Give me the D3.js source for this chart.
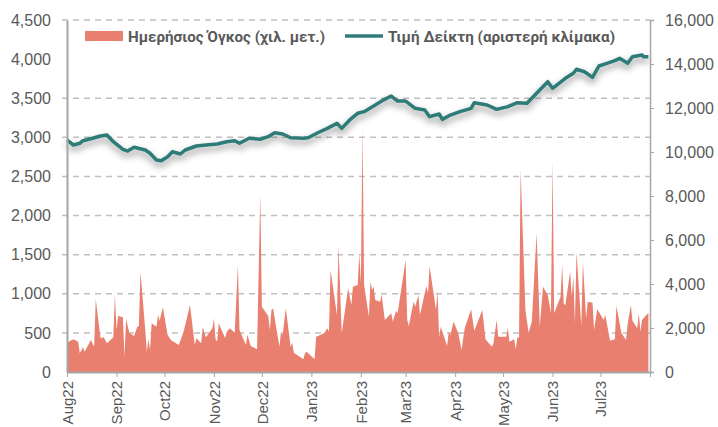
<!DOCTYPE html>
<html lang="el">
<head>
    <meta charset="UTF-8">
    <script src="https://cdn.jsdelivr.net/npm/d3@7"></script>
    <title>Όγκος και Τιμή Δείκτη</title>
    <style>
        body { margin: 0; background: #fff; }
        svg { display: block; font-family: Roboto, "Noto Sans", sans-serif; }
        .tick text { fill: #595959; }
    </style>
</head>
<body>
<svg width="718" height="427"></svg>
<script>
    // ημερήσιος όγκος (δεξιά κλίμακα)
    var volDates = [
        "2022-08-01", "2022-08-03", "2022-08-05", "2022-08-08", "2022-08-09", "2022-08-11", "2022-08-12", "2022-08-16",
        "2022-08-18", "2022-08-19", "2022-08-22", "2022-08-24", "2022-08-26", "2022-08-30", "2022-08-31",
        "2022-09-01", "2022-09-02", "2022-09-05", "2022-09-06", "2022-09-07", "2022-09-09", "2022-09-12", "2022-09-14",
        "2022-09-15", "2022-09-16", "2022-09-19", "2022-09-20", "2022-09-21", "2022-09-22", "2022-09-23", "2022-09-26",
        "2022-09-27", "2022-09-28", "2022-09-30",
        "2022-10-03", "2022-10-05", "2022-10-10", "2022-10-13", "2022-10-17", "2022-10-20", "2022-10-21", "2022-10-24",
        "2022-10-25", "2022-10-27", "2022-10-31",
        "2022-11-01", "2022-11-02", "2022-11-03", "2022-11-04", "2022-11-08", "2022-11-09", "2022-11-11", "2022-11-14",
        "2022-11-16", "2022-11-17", "2022-11-21", "2022-11-22", "2022-11-24", "2022-11-28", "2022-11-30",
        "2022-12-01", "2022-12-05", "2022-12-06", "2022-12-07", "2022-12-08", "2022-12-12", "2022-12-13", "2022-12-14",
        "2022-12-16", "2022-12-19", "2022-12-20", "2022-12-21", "2022-12-27", "2022-12-28", "2022-12-29",
        "2023-01-03", "2023-01-04", "2023-01-09", "2023-01-11", "2023-01-12", "2023-01-13", "2023-01-17", "2023-01-18",
        "2023-01-20", "2023-01-24", "2023-01-26", "2023-01-27", "2023-01-30", "2023-01-31",
        "2023-02-01", "2023-02-02", "2023-02-03", "2023-02-06", "2023-02-07", "2023-02-08", "2023-02-09", "2023-02-10",
        "2023-02-13", "2023-02-14", "2023-02-16", "2023-02-20", "2023-02-21", "2023-02-23", "2023-02-24",
        "2023-03-01", "2023-03-02", "2023-03-03", "2023-03-06", "2023-03-07", "2023-03-09", "2023-03-10", "2023-03-14",
        "2023-03-15", "2023-03-16", "2023-03-20", "2023-03-21", "2023-03-22", "2023-03-23", "2023-03-27", "2023-03-28",
        "2023-03-29", "2023-03-31",
        "2023-04-03", "2023-04-05", "2023-04-07", "2023-04-11", "2023-04-13", "2023-04-18", "2023-04-20", "2023-04-24",
        "2023-04-25", "2023-04-27", "2023-04-28",
        "2023-05-03", "2023-05-04", "2023-05-05", "2023-05-08", "2023-05-09", "2023-05-10", "2023-05-11", "2023-05-12",
        "2023-05-15", "2023-05-17", "2023-05-19", "2023-05-22", "2023-05-24", "2023-05-26", "2023-05-29", "2023-05-31",
        "2023-06-01", "2023-06-02", "2023-06-06", "2023-06-07", "2023-06-08", "2023-06-09", "2023-06-12", "2023-06-13",
        "2023-06-14", "2023-06-15", "2023-06-16", "2023-06-19", "2023-06-20", "2023-06-22", "2023-06-23", "2023-06-26",
        "2023-06-27", "2023-06-29",
        "2023-07-03", "2023-07-04", "2023-07-07", "2023-07-10", "2023-07-11", "2023-07-13", "2023-07-14", "2023-07-17",
        "2023-07-18", "2023-07-20", "2023-07-21", "2023-07-24", "2023-07-25", "2023-07-26", "2023-07-27", "2023-07-31"
    ];
    var volValues = [
        1305, 1423, 1486, 1377, 850, 1123, 923, 1455,
        1150, 3304, 1532, 1577, 1305, 1577, 3500,
        1909, 2545, 2486, 695, 2409, 1786, 1636, 2059,
        2091, 4559, 1909, 923, 1486, 1000, 2213, 2059,
        2591, 2332, 2941,
        1682, 1455, 1227, 1832, 3045, 1227, 1532, 1305,
        2032, 1577, 1986,
        2441, 1486, 1377, 2213, 1532, 1832, 1986, 1786,
        4863, 1909, 1227, 1682, 1182, 1032, 8100,
        2968, 2545, 1909, 2818, 2895, 1150, 1832, 1682,
        2895, 1150, 1332, 877, 577, 850, 923,
        577, 1605, 1759, 1986, 1832, 4636, 2591, 5727,
        1759, 3804, 3045, 3877, 3954, 5395,
        4032, 11100, 3954, 2514, 4104, 3727, 3877, 3273,
        3195, 3500, 2364, 2668, 2286, 2786, 2668,
        5091, 2364, 2091, 3195, 2968, 3500, 2591, 3909,
        3577, 4818, 2818, 3650, 1577, 2059, 1182, 1832,
        1682, 2286,
        1759, 1000, 1986, 2850, 1877, 2818, 1486, 1150,
        1305, 2364, 1605,
        1605, 2014, 1377, 1486, 1032, 1605, 1532, 9200,
        2818, 1786, 2286, 6304, 2059, 3877, 3500, 2668,
        9636, 2668, 3423, 4863, 3091, 3045, 4559, 3423,
        4332, 2213, 5468, 2091, 5013, 2441, 3195, 3150,
        1909, 2850,
        2364, 2591, 1423, 1486, 3000, 2213, 1786, 1455,
        2182, 3045, 2332, 1986, 2668, 1832, 2364, 2695
    ];

    // τιμή δείκτη (αριστερή κλίμακα)
    var idxDates = [
        "2022-08-01", "2022-08-05", "2022-08-09", "2022-08-11", "2022-08-17", "2022-08-22", "2022-08-26", "2022-08-30",
        "2022-09-05", "2022-09-08", "2022-09-12", "2022-09-19", "2022-09-22", "2022-09-26", "2022-09-29",
        "2022-10-03", "2022-10-06", "2022-10-11", "2022-10-14", "2022-10-21", "2022-10-27",
        "2022-11-03", "2022-11-09", "2022-11-14", "2022-11-17", "2022-11-23", "2022-11-30",
        "2022-12-05", "2022-12-09", "2022-12-14", "2022-12-19", "2022-12-27", "2022-12-30",
        "2023-01-05", "2023-01-11", "2023-01-17", "2023-01-20", "2023-01-25", "2023-01-30",
        "2023-02-03", "2023-02-10", "2023-02-15", "2023-02-20", "2023-02-24",
        "2023-03-01", "2023-03-07", "2023-03-13", "2023-03-16", "2023-03-22", "2023-03-24", "2023-03-29",
        "2023-04-04", "2023-04-11", "2023-04-13", "2023-04-21", "2023-04-27",
        "2023-05-04", "2023-05-10", "2023-05-16", "2023-05-22", "2023-05-29",
        "2023-06-01", "2023-06-09", "2023-06-14", "2023-06-16", "2023-06-21", "2023-06-26", "2023-06-30",
        "2023-07-05", "2023-07-10", "2023-07-13", "2023-07-18", "2023-07-21", "2023-07-27", "2023-07-28", "2023-07-31"
    ];
    var idxValues = [
        2966, 2902, 2924, 2957, 2988, 3017, 3030, 2944,
        2847, 2825, 2873, 2838, 2796, 2710, 2701,
        2752, 2816, 2787, 2838, 2889, 2902,
        2915, 2944, 2957, 2924, 2988, 2975,
        3008, 3059, 3043, 2995, 2988, 2995,
        3059, 3115, 3179, 3115, 3222, 3307,
        3328, 3413, 3476, 3528, 3464,
        3464, 3371, 3349, 3264, 3298, 3230, 3285,
        3328, 3371, 3443, 3413, 3358,
        3392, 3443, 3435, 3563, 3711,
        3627, 3755, 3819, 3870, 3839, 3767, 3912,
        3946, 3980, 4010, 3946, 4031, 4053, 4031, 4031
    ];

    var monthTicks = ["2022-08-01", "2022-09-01", "2022-10-01", "2022-11-01", "2022-12-01", "2023-01-01",
        "2023-02-01", "2023-03-01", "2023-04-01", "2023-05-01", "2023-06-01", "2023-07-01", "2023-08-01"];
    var monthLabels = ["Aug22", "Sep22", "Oct22", "Nov22", "Dec22", "Jan23",
        "Feb23", "Mar23", "Apr23", "May23", "Jun23", "Jul23", ""];
    var leftTicks = [0, 500, 1000, 1500, 2000, 2500, 3000, 3500, 4000, 4500];
    var rightTicks = [0, 2000, 4000, 6000, 8000, 10000, 12000, 14000, 16000];
    var legendNames = ["Ημερήσιος Όγκος (χιλ. μετ.)", "Τιμή Δείκτη (αριστερή κλίμακα)"];
</script>
<script>
    var svg = d3.select("svg");
    var parse = d3.timeParse("%Y-%m-%d");
    var plot = {left: 67, right: 650, top: 20, bottom: 372};
    var volColor = "#e97f6e";
    var lineColor = "#2f7b78";

    var x = d3.scaleTime()
        .domain([parse("2022-08-01"), parse("2023-08-01")])
        .range([plot.left, plot.right]);
    var yLeft = d3.scaleLinear().domain([0, 4500]).range([plot.bottom, plot.top]);
    var yRight = d3.scaleLinear().domain([0, 16000]).range([plot.bottom, plot.top]);

    var defs = svg.append("defs");
    var shadow = defs.append("filter").attr("id", "shadow")
        .attr("x", "-5%").attr("y", "-50%").attr("width", "110%").attr("height", "200%");
    shadow.append("feDropShadow")
        .attr("dx", 0).attr("dy", 4).attr("stdDeviation", 3.5)
        .attr("flood-color", "#000").attr("flood-opacity", 0.45);

    // grid lines
    svg.append("g")
        .selectAll("line")
        .data(leftTicks.filter(function (d) { return d > 0; }))
        .enter()
        .append("line")
        .attr("x1", plot.left - 5)
        .attr("x2", plot.right)
        .attr("y1", function (d) { return yLeft(d); })
        .attr("y2", function (d) { return yLeft(d); })
        .attr("stroke", "#c0c0c0")
        .attr("stroke-width", 1.5)
        .attr("stroke-dasharray", "6,5");

    // legend box (white, hides one grid line like the original)
    svg.append("rect")
        .attr("x", plot.left - 5).attr("y", 25)
        .attr("width", plot.right - plot.left + 5).attr("height", 44)
        .attr("fill", "#fff");

    var vol = volDates.map(function (d, i) { return {date: parse(d), value: volValues[i]}; });
    var idx = idxDates.map(function (d, i) { return {date: parse(d), value: idxValues[i]}; });

    var area = d3.area()
        .x(function (d) { return x(d.date); })
        .y0(plot.bottom)
        .y1(function (d) { return yRight(d.value); });

    svg.append("path")
        .datum(vol)
        .attr("fill", volColor)
        .attr("d", area);

    var line = d3.line()
        .x(function (d) { return x(d.date); })
        .y(function (d) { return yLeft(d.value); });

    svg.append("path")
        .datum(idx)
        .attr("fill", "none")
        .attr("stroke", lineColor)
        .attr("stroke-width", 3.5)
        .attr("stroke-linejoin", "round")
        .attr("filter", "url(#shadow)")
        .attr("d", line);

    // left axis
    var gLeft = svg.append("g")
        .attr("transform", "translate(" + plot.left + ",0)")
        .call(d3.axisLeft(yLeft).tickValues(leftTicks).tickFormat(d3.format(",")).tickSize(0).tickPadding(16));
    gLeft.select(".domain").attr("stroke", "#a6a6a6").attr("stroke-width", 2);
    gLeft.selectAll("text").attr("font-size", 16);

    // right axis
    var gRight = svg.append("g")
        .attr("transform", "translate(" + plot.right + ",0)")
        .call(d3.axisRight(yRight).tickValues(rightTicks).tickFormat(d3.format(",")).tickSize(4).tickPadding(11));
    gRight.select(".domain").attr("stroke", "#a6a6a6").attr("stroke-width", 1.5);
    gRight.selectAll("line").attr("stroke", "#a6a6a6");
    gRight.selectAll("text").attr("font-size", 16);

    // x axis
    var gX = svg.append("g")
        .attr("transform", "translate(0," + plot.bottom + ")")
        .call(d3.axisBottom(x)
            .tickValues(monthTicks.map(parse))
            .tickFormat(function (d, i) { return monthLabels[i]; })
            .tickSizeInner(5).tickSizeOuter(0));
    gX.select(".domain").attr("stroke", "#a6a6a6").attr("stroke-width", 2);
    gX.selectAll("line").attr("stroke", "#a6a6a6");
    gX.selectAll("text")
        .attr("font-size", 15)
        .attr("text-anchor", "end")
        .attr("transform", "rotate(-90)")
        .attr("x", -9)
        .attr("y", 0)
        .attr("dy", "0.35em");

    // legend
    var legend = svg.append("g").attr("font-size", 15).attr("font-weight", "bold").attr("fill", "#595959");
    legend.append("rect")
        .attr("x", 85).attr("y", 31).attr("width", 38).attr("height", 10)
        .attr("fill", volColor);
    legend.append("text")
        .attr("x", 128).attr("y", 42)
        .attr("textLength", 197).attr("lengthAdjust", "spacingAndGlyphs")
        .text(legendNames[0]);
    legend.append("line")
        .attr("x1", 345).attr("x2", 383).attr("y1", 36).attr("y2", 36)
        .attr("stroke", lineColor).attr("stroke-width", 3.5);
    legend.append("text")
        .attr("x", 388).attr("y", 42)
        .attr("textLength", 227).attr("lengthAdjust", "spacingAndGlyphs")
        .text(legendNames[1]);
</script>
</body>
</html>
